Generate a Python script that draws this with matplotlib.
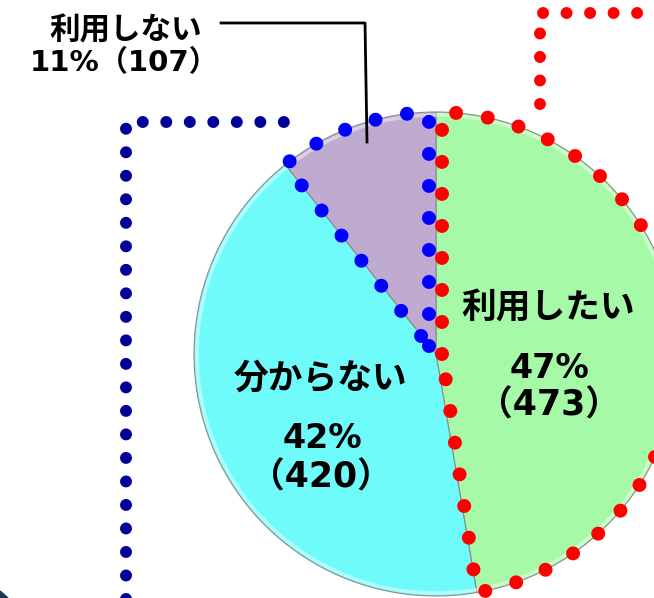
import numpy as np
import matplotlib
matplotlib.use("Agg")
import matplotlib.pyplot as plt
from matplotlib.patches import Polygon

plt.rcParams['font.family'] = ['Noto Sans CJK JP', 'DejaVu Sans']

# data
labels = ["利用したい", "分からない", "利用しない"]
percents = ["47%", "42%", "11%"]
counts = [473, 420, 107]
colors = ["#a6f9a6", "#70fbfb", "#bfaad0"]

W, H = 654, 598
fig = plt.figure(figsize=(W / 100, H / 100), dpi=100)
ax = fig.add_axes([0, 0, 1, 1])

cx, cy, r = 436, H - 354, 242

ax.pie(counts, colors=colors, startangle=90, counterclock=False,
       center=(cx, cy), radius=r,
       wedgeprops=dict(edgecolor="#8a8a8a", linewidth=0.8))
# soft light rim
rim = plt.Circle((cx, cy), r - 3, fill=False, edgecolor="white", lw=2.5, alpha=0.45)
ax.add_patch(rim)

ax.set_xlim(0, W)
ax.set_ylim(0, H)
ax.set_aspect("auto")
ax.axis("off")


def dotted(xs, ys, color, size_px, spacing_px):
    lw = size_px * 0.72
    gap = spacing_px * 0.72 / lw
    ax.plot(xs, ys, color=color, lw=lw, linestyle=(0, (0.001, gap)),
            dash_capstyle="round", solid_capstyle="round", zorder=5)


# wedge angles from the data
total = sum(counts)
frac = np.array(counts) / total
a_green_end = 90 - 360 * frac[0]
a_cyan_end = a_green_end - 360 * frac[1] + 360


def arc(a0, a1, rad, n=200):
    t = np.radians(np.linspace(a0, a1, n))
    return cx + rad * np.cos(t), cy + rad * np.sin(t)

# blue outline around "利用しない" wedge
ax_, ay_ = arc(92, a_cyan_end, r)
bx = np.concatenate([[cx - 7, cx - 7], ax_, [cx - 7]])
by = np.concatenate([[cy + 8, cy + r], ay_, [cy + 8]])
dotted(bx, by, "#0000ff", 14, 32)

# red outline around "利用したい" wedge
rx_, ry_ = arc(88, a_green_end, r)
rx = np.concatenate([[cx + 6, cx + 6], rx_, [cx + 6]])
ry = np.concatenate([[cy, cy + r], ry_, [cy]])
dotted(rx, ry, "#ff0000", 14, 32)

# dotted frames
dotted([126, 126, 292], [-10, H - 122, H - 122], "#000099", 12, 23.5)
dotted([540, 540, 670], [H - 104, H - 13, H - 13], "#ff0000", 12, 23.5)

# leader line for the small wedge
ax.plot([221, 365, 367], [H - 23, H - 23, H - 142], color="black", lw=2, zorder=6)

# corner shape
ax.add_patch(Polygon([[0, 0], [0, 7], [8, 0]], closed=True, color="#1c3557"))

tkw = dict(ha="center", va="center", fontweight="bold", color="black", zorder=7)
num = ['DejaVu Sans', 'Noto Sans CJK JP']
ax.text(126, H - 30, labels[2], fontsize=22, **tkw)
ax.text(124, H - 63, f"{percents[2]}（{counts[2]}）", fontsize=21, family=num, **tkw)

ax.text(548, H - 308, labels[0], fontsize=25, **tkw)
ax.text(549, H - 368, percents[0], fontsize=24, family=num, **tkw)
ax.text(549, H - 406, f"（{counts[0]}）", fontsize=25, family=num, **tkw)

ax.text(320, H - 378, labels[1], fontsize=25, **tkw)
ax.text(322, H - 438, percents[1], fontsize=24, family=num, **tkw)
ax.text(321, H - 478, f"（{counts[1]}）", fontsize=25, family=num, **tkw)

fig.savefig("out.png", dpi=100)
